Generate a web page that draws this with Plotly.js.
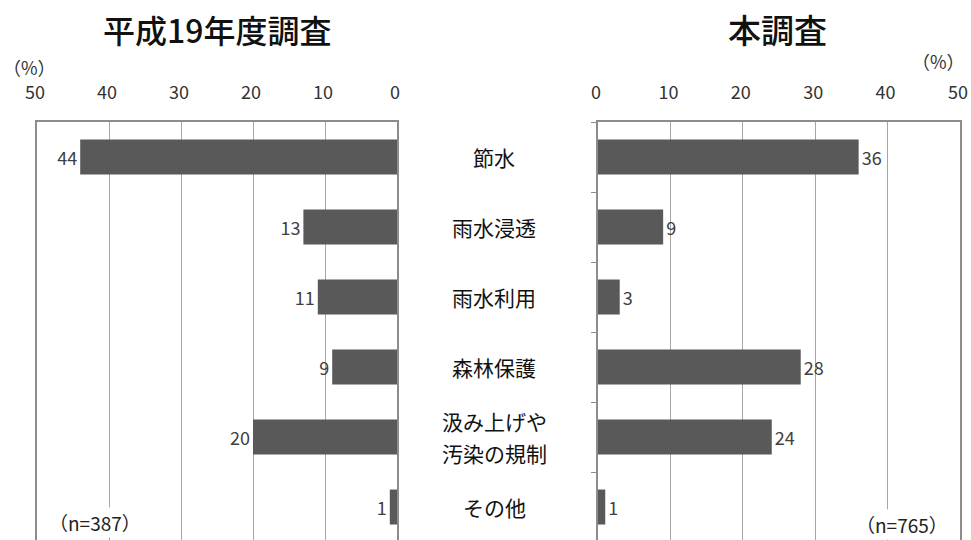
<!DOCTYPE html>
<html>
<head>
<meta charset="utf-8">
<script src="https://cdn.plot.ly/plotly-3.0.1.min.js"></script>
<style>html,body{margin:0;padding:0;background:#fff;}#chart{width:971px;height:540px;}</style>
</head>
<body>
<div id="chart"></div>
<script>
const categories = ["節水", "雨水浸透", "雨水利用", "森林保護", "汲み上げや<br>汚染の規制", "その他"];
const valuesH19 = [44, 13, 11, 9, 20, 1];
const valuesNow = [36, 9, 3, 28, 24, 1];
const tickVals = [0, 10, 20, 30, 40, 50];
const titleLeft = "平成19年度調査";
const titleRight = "本調査";
const nLeft = "（n=387）";
const nRight = "（n=765）";
const unitLabel = "（%）";

const FONT = "Noto Sans CJK JP, sans-serif";
const W = 971, H = 540, TOP = 122;
const barColor = "#595959";
const borderColor = "#8c8c8c";
const gridColor = "#a6a6a6";
// convert page pixel y to paper fraction (paper spans the plot area between margins)
const py = y => (H - y) / (H - TOP);

const traces = [
  {
    type: "bar", orientation: "h",
    x: valuesH19, y: categories,
    xaxis: "x", yaxis: "y",
    marker: {color: barColor},
    text: valuesH19.map(String), textposition: "outside",
    textfont: {family: FONT, size: 18, color: "#404040"},
    cliponaxis: false, hoverinfo: "none"
  },
  {
    type: "bar", orientation: "h",
    x: valuesNow, y: categories,
    xaxis: "x2", yaxis: "y2",
    marker: {color: barColor},
    text: valuesNow.map(String), textposition: "outside",
    textfont: {family: FONT, size: 18, color: "#404040"},
    cliponaxis: false, hoverinfo: "none"
  }
];

const xCommon = {
  side: "top", tickvals: tickVals, ticktext: tickVals.map(v => v + "\u00a0"),
  showgrid: true, gridcolor: gridColor, gridwidth: 1,
  zeroline: false, showline: true, linecolor: borderColor, linewidth: 2,
  ticks: "", ticklabelstandoff: 14, ticklabeloverflow: "allow",
  tickfont: {family: FONT, size: 18, color: "#333"}
};
const yRange = [5.471, -0.5];
const yCommon = {
  type: "category", categoryarray: categories, range: yRange,
  showticklabels: false, showgrid: false, zeroline: false,
  showline: true, mirror: true, linecolor: borderColor, linewidth: 2
};

const annotations = [];
annotations.push({text: titleLeft, xref: "paper", yref: "paper", x: 217 / W, y: py(29),
  showarrow: false, xanchor: "center", yanchor: "middle",
  font: {family: FONT, size: 32, color: "#111", weight: 500}});
annotations.push({text: titleRight, xref: "paper", yref: "paper", x: 777 / W, y: py(29),
  showarrow: false, xanchor: "center", yanchor: "middle",
  font: {family: FONT, size: 33, color: "#111", weight: 500}});
annotations.push({text: unitLabel, xref: "paper", yref: "paper", x: 29 / W, y: py(67),
  showarrow: false, xanchor: "center", yanchor: "middle",
  font: {family: FONT, size: 18, color: "#333"}});
annotations.push({text: unitLabel, xref: "paper", yref: "paper", x: 938 / W, y: py(61),
  showarrow: false, xanchor: "center", yanchor: "middle",
  font: {family: FONT, size: 18, color: "#333"}});
annotations.push({text: nLeft, xref: "paper", yref: "paper", x: 95 / W, y: py(522),
  showarrow: false, xanchor: "center", yanchor: "middle", bgcolor: "#fff",
  font: {family: FONT, size: 19, color: "#222"}});
annotations.push({text: nRight, xref: "paper", yref: "paper", x: 902 / W, y: py(524),
  showarrow: false, xanchor: "center", yanchor: "middle", bgcolor: "#fff",
  font: {family: FONT, size: 19, color: "#222"}});

categories.forEach(c => {
  const lines = c.split("<br>");
  lines.forEach((ln, i) => {
    const shift = (lines.length - 1) * 16 - i * 32;
    annotations.push({text: ln, xref: "paper", yref: "y", x: 494 / W, y: c, yshift: shift,
      showarrow: false, xanchor: "center", yanchor: "middle",
      font: {family: FONT, size: 21, color: "#111"}});
  });
});

const layout = {
  width: W, height: H,
  margin: {l: 0, r: 0, t: TOP, b: 0, pad: 0},
  paper_bgcolor: "#fff", plot_bgcolor: "#fff",
  showlegend: false, bargap: 0.5,
  xaxis: Object.assign({}, xCommon, {domain: [37 / W, 397 / W], range: [50, 0], anchor: "y"}),
  xaxis2: Object.assign({}, xCommon, {domain: [598 / W, 960 / W], range: [0, 50], anchor: "y2"}),
  yaxis: Object.assign({}, yCommon, {anchor: "x", side: "right"}),
  yaxis2: Object.assign({}, yCommon, {anchor: "x2", side: "left",
    ticks: "outside", tickson: "boundaries", ticklen: 5, tickcolor: borderColor, tickwidth: 1}),
  annotations: annotations
};

Plotly.newPlot("chart", traces, layout, {displayModeBar: false, staticPlot: true});
</script>
</body>
</html>
